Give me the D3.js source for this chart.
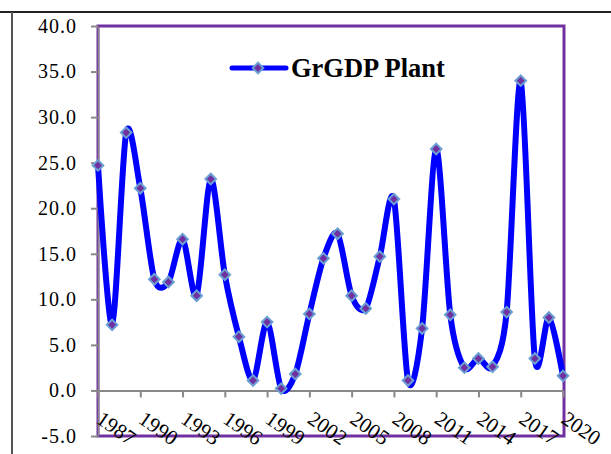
<!DOCTYPE html>
<html>
<head>
<meta charset="utf-8">
<script src="https://cdn.jsdelivr.net/npm/d3@7"></script>
<style>
  body { margin: 0; background: #fff; }
  svg { display: block; }
  .tick text { font-family: "Liberation Serif", "Times New Roman", serif; }
</style>
</head>
<body>
<div class="chart"></div>
<script>
// GrGDP Plant chart
var years = [1987, 1988, 1989, 1990, 1991, 1992, 1993, 1994, 1995, 1996, 1997, 1998,
    1999, 2000, 2001, 2002, 2003, 2004, 2005, 2006, 2007, 2008, 2009, 2010,
    2011, 2012, 2013, 2014, 2015, 2016, 2017, 2018, 2019, 2020];
var grgdp = [24.7, 7.2, 28.3, 22.2, 12.2, 11.9, 16.6, 10.4, 23.2, 12.7, 5.9, 1.1,
    7.5, 0.2, 1.8, 8.4, 14.5, 17.2, 10.4, 9.0, 14.7, 21.0, 1.1, 6.8,
    26.5, 8.3, 2.5, 3.5, 2.6, 8.6, 34.0, 3.5, 8.0, 1.6];
var yTicks = [-5, 0, 5, 10, 15, 20, 25, 30, 35, 40];
var xTicks = [1987, 1990, 1993, 1996, 1999, 2002, 2005, 2008, 2011, 2014, 2017, 2020];
var seriesName = "GrGDP Plant";

var svgWidth = 611;
var svgHeight = 454;
var plot = { left: 98, top: 26, right: 564, bottom: 436 };

var svg = d3.select(".chart")
    .append("svg")
    .attr("width", svgWidth)
    .attr("height", svgHeight);

// outer frame lines
svg.append("line")
    .attr("x1", 0).attr("x2", svgWidth)
    .attr("y1", 12).attr("y2", 12)
    .attr("stroke", "#222").attr("stroke-width", 2);
svg.append("line")
    .attr("x1", 12).attr("x2", 12)
    .attr("y1", 12).attr("y2", svgHeight)
    .attr("stroke", "#555").attr("stroke-width", 2);

var xScale = d3.scaleLinear()
    .domain([1987, 2020])
    .range([plot.left, plot.right - 1]);
var yScale = d3.scaleLinear()
    .domain([-5, 40])
    .range([plot.bottom, plot.top]);

// plot border
svg.append("rect")
    .attr("x", plot.left)
    .attr("y", plot.top)
    .attr("width", plot.right - plot.left)
    .attr("height", plot.bottom - plot.top)
    .attr("fill", "none")
    .attr("stroke", "#7030a0")
    .attr("stroke-width", 3);

// y axis
var leftAxis = d3.axisLeft(yScale)
    .tickValues(yTicks)
    .tickSize(7)
    .tickSizeOuter(0)
    .tickPadding(14)
    .tickFormat(function(d) { return d.toFixed(1); });
var yAxis = svg.append("g")
    .attr("transform", "translate(" + plot.left + ",0)")
    .call(leftAxis);
yAxis.selectAll("path, line").attr("stroke", "#888").attr("stroke-width", 2);
yAxis.selectAll("text")
    .attr("font-size", 20)
    .attr("letter-spacing", 1)
    .attr("fill", "#000");
yAxis.select(".domain").attr("stroke-width", 1.5);

// x axis at zero
var bottomAxis = d3.axisBottom(xScale)
    .tickValues(xTicks)
    .tickSize(7)
    .tickSizeOuter(0)
    .tickFormat("");
var xAxis = svg.append("g")
    .attr("transform", "translate(0," + yScale(0) + ")")
    .call(bottomAxis);
xAxis.selectAll("path, line").attr("stroke", "#888").attr("stroke-width", 2);

// rotated year labels
svg.append("g").selectAll("text")
    .data(xTicks)
    .enter()
    .append("text")
    .attr("transform", function(d) {
        return "translate(" + (xScale(d) - 3) + ",422) rotate(35)";
    })
    .attr("font-family", "Liberation Serif, Times New Roman, serif")
    .attr("font-size", 21)
    .attr("fill", "#000")
    .text(function(d) { return d; });

// series line
var line = d3.line()
    .x(function(d, i) { return xScale(years[i]); })
    .y(function(d) { return yScale(d); })
    .curve(d3.curveCardinal.tension(0.15));

svg.append("path")
    .datum(grgdp)
    .attr("d", line)
    .attr("fill", "none")
    .attr("stroke", "#0000ff")
    .attr("stroke-width", 6)
    .attr("stroke-linejoin", "round");

var marker = d3.symbol().type(d3.symbolSquare).size(56);

svg.append("g").selectAll("path")
    .data(grgdp)
    .enter()
    .append("path")
    .attr("d", marker)
    .attr("transform", function(d, i) {
        return "translate(" + xScale(years[i]) + "," + yScale(d) + ") rotate(45)";
    })
    .attr("fill", "#7030a0")
    .attr("stroke", "#6a9fd4")
    .attr("stroke-width", 2);

// legend
var legend = svg.append("g").attr("transform", "translate(232,68)");
legend.append("line")
    .attr("x1", 0).attr("x2", 54)
    .attr("y1", 0).attr("y2", 0)
    .attr("stroke", "#0000ff")
    .attr("stroke-width", 5)
    .attr("stroke-linecap", "round");
legend.append("path")
    .attr("d", marker)
    .attr("transform", "translate(26,0) rotate(45)")
    .attr("fill", "#7030a0")
    .attr("stroke", "#6a9fd4")
    .attr("stroke-width", 2);
legend.append("text")
    .attr("x", 59)
    .attr("y", 9)
    .attr("font-family", "Liberation Serif, Times New Roman, serif")
    .attr("font-weight", "bold")
    .attr("font-size", 26.5)
    .attr("fill", "#000")
    .text(seriesName);
</script>
</body>
</html>
